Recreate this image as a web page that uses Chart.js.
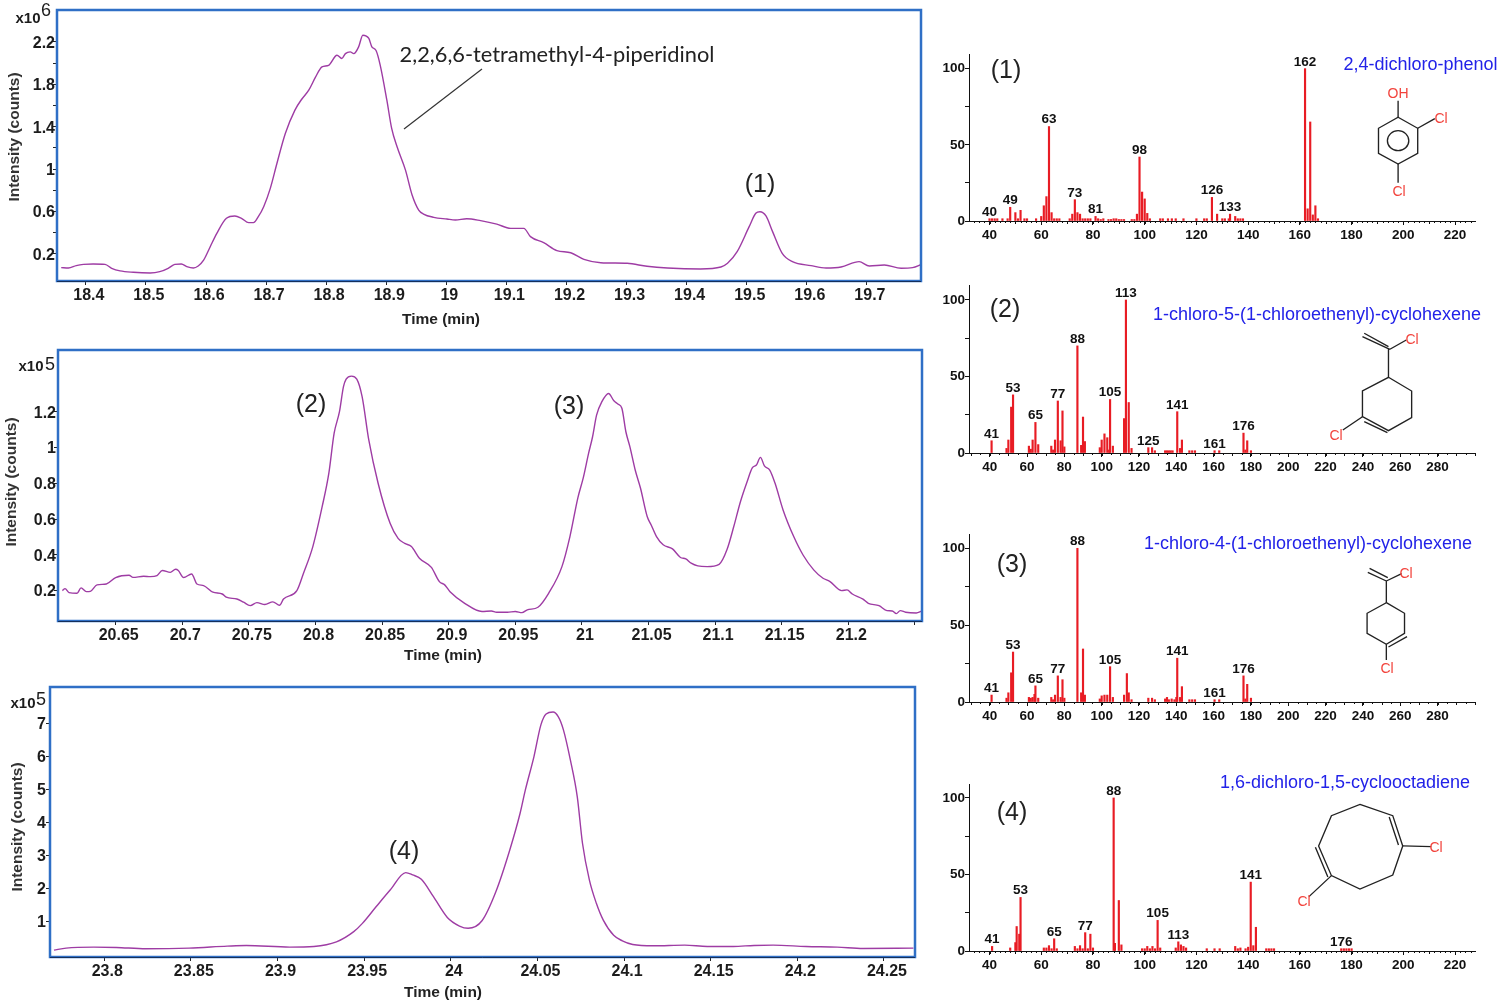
<!DOCTYPE html>
<html>
<head>
<meta charset="utf-8">
<title>Chromatograms and mass spectra</title>
<script src="https://cdn.jsdelivr.net/npm/chart.js@4"></script>
<style>
  html, body { margin: 0; padding: 0; background: #fff; }
  #page { position: relative; width: 1499px; height: 1004px; overflow: hidden; font-family: "Liberation Sans", Arial, sans-serif; }
  canvas { position: absolute; }
  svg { position: absolute; left: 0; top: 0; }
  .note { position: absolute; white-space: nowrap; transform: translate(-50%, -50%); color: #1c1c1c; }
  .axis { font-weight: bold; font-size: 15.5px; color: #222; }
  .yaxis { font-weight: bold; font-size: 15.5px; color: #333; transform: translate(-50%, -50%) rotate(-90deg); }
  .tag { font-size: 25px; color: #222; }
  .exp { font-size: 15px; font-weight: bold; }
  .pow { font-size: 18px; }
  .blue { font-size: 18px; color: #2222e8; }
  .name { font-family: Lato, sans-serif; font-size: 21.8px; color: #222; }
  .cl { font-size: 14px; color: #f2433c; }
</style>
</head>
<body>
<div id="page">
  <canvas id="c1"></canvas>
  <canvas id="c2"></canvas>
  <canvas id="c3"></canvas>
  <canvas id="m1"></canvas>
  <canvas id="m2"></canvas>
  <canvas id="m3"></canvas>
  <canvas id="m4"></canvas>

  <svg width="1499" height="1004" fill="none" stroke="#222" stroke-width="3.8">
    <line x1="404" y1="129" x2="482" y2="69" stroke-width="1.2" stroke="#333"/>
    <!-- 2,4-dichloro-phenol -->
    <g transform="translate(940,40) scale(0.3565,0.3333)">
      <path d="M1285 232L1340 265L1340 340L1285 372L1230 340L1230 265Z"/>
      <ellipse cx="1285" cy="302" rx="30" ry="30"/>
      <path d="M1285 232L1285 182M1340 265L1388 236M1285 372L1285 428"/>
    </g>
    <!-- 1-chloro-5-(1-chloroethenyl)-cyclohexene -->
    <g transform="translate(940,280) scale(0.3565,0.3333)">
      <path d="M1258 292L1323 333L1323 413L1258 452L1185 410L1185 333Z"/>
      <path d="M1190 425L1255 458M1258 208L1258 292M1262 208L1185 170M1258 200L1190 160M1262 208L1308 180M1185 410L1130 450"/>
    </g>
    <!-- 1-chloro-4-(1-chloroethenyl)-cyclohexene -->
    <g transform="translate(940,525) scale(0.3565,0.3333)">
      <path d="M1252 233L1303 265L1303 325L1252 358L1198 325L1198 265Z"/>
      <path d="M1258 366L1310 335M1252 168L1252 233M1252 168L1200 142M1256 158L1205 130M1252 168L1295 146M1252 358L1252 405"/>
    </g>
    <!-- 1,6-dichloro-1,5-cyclooctadiene -->
    <g transform="translate(940,765) scale(0.3565,0.3333)">
      <path d="M1178 118L1270 152L1298 243L1270 330L1178 372L1098 332L1062 243L1098 152Z"/>
      <path d="M1260 156L1286 240M1088 336L1053 247M1298 243L1378 245M1098 332L1035 395"/>
    </g>
  </svg>
</div>

<script>
const times1 = [18.359,18.371,18.384,18.396,18.412,18.432,18.443,18.457,18.479,18.507,18.523,18.537,18.548,18.559,18.568,18.579,18.587,18.596,18.607,18.618,18.634,18.648,18.659,18.671,18.679,18.687,18.696,18.707,18.718,18.732,18.748,18.759,18.771,18.782,18.793,18.804,18.818,18.826,18.832,18.84,18.846,18.854,18.861,18.871,18.876,18.883,18.89,18.901,18.909,18.918,18.932,18.943,18.954,18.962,18.979,19.001,19.015,19.034,19.057,19.084,19.107,19.129,19.14,19.162,19.184,19.207,19.229,19.257,19.301,19.334,19.368,19.423,19.457,19.468,19.484,19.504,19.515,19.522,19.532,19.543,19.559,19.576,19.607,19.632,19.657,19.687,19.704,19.729,19.757,19.776,19.791]
const counts1 = [.069,.066,.088,.1,.104,.1,.063,.038,.025,.019,.031,.063,.1,.104,.079,.066,.085,.14,.267,.393,.535,.557,.535,.494,.494,.55,.645,.818,1.053,1.336,1.557,1.657,1.745,1.865,1.965,1.98,2.075,2.044,2.09,2.107,2.09,2.154,2.264,2.233,2.154,2.12,1.98,1.65,1.384,1.21,.99,.755,.613,.575,.544,.528,.519,.531,.513,.48,.44,.44,.362,.305,.23,.21,.148,.116,.11,.082,.066,.057,.075,.11,.22,.456,.582,.597,.557,.409,.204,.126,.088,.066,.075,.126,.085,.094,.063,.069,.1]
const xTicks1 = [18.4,18.5,18.6,18.7,18.8,18.9,19,19.1,19.2,19.3,19.4,19.5,19.6,19.7]
const xLabels1 = xTicks1
const yTicks1 = [.2,.4,.6,.8,1,1.2,1.4,1.6,1.8,2,2.2]
const yLabels1 = [.2,.6,1,1.4,1.8,2.2]

const times2 = [20.61,20.612,20.615,20.621,20.624,20.628,20.631,20.636,20.643,20.65,20.66,20.663,20.671,20.676,20.681,20.685,20.691,20.695,20.697,20.701,20.707,20.711,20.716,20.723,20.73,20.733,20.741,20.746,20.751,20.756,20.762,20.768,20.773,20.776,20.786,20.791,20.798,20.805,20.81,20.814,20.818,20.821,20.823,20.827,20.831,20.835,20.84,20.847,20.856,20.862,20.867,20.872,20.878,20.887,20.893,20.897,20.901,20.912,20.925,20.932,20.936,20.944,20.95,20.955,20.959,20.967,20.975,20.985,20.991,20.997,21.001,21.005,21.008,21.011,21.015,21.02,21.024,21.027,21.03,21.033,21.036,21.04,21.044,21.049,21.052,21.056,21.061,21.068,21.074,21.078,21.082,21.087,21.094,21.103,21.109,21.114,21.119,21.124,21.128,21.131,21.134,21.137,21.141,21.145,21.151,21.159,21.166,21.174,21.181,21.186,21.195,21.199,21.203,21.211,21.215,21.223,21.229,21.233,21.236,21.239,21.243,21.251,21.255]
const counts2 = [.2,.211,.189,.185,.215,.194,.196,.232,.237,.273,.286,.274,.28,.278,.284,.312,.302,.319,.312,.273,.293,.237,.228,.191,.181,.163,.153,.135,.116,.133,.122,.137,.118,.153,.2,.297,.446,.669,.855,1.08,1.2,1.34,1.382,1.399,1.382,1.284,1.042,.8,.576,.492,.464,.446,.381,.33,.25,.232,.194,.129,.083,.086,.079,.079,.083,.077,.092,.107,.185,.334,.502,.72,.83,.967,1.06,1.181,1.256,1.302,1.261,1.243,1.219,1.088,1.005,.874,.772,.614,.567,.502,.456,.433,.385,.377,.353,.338,.334,.347,.431,.558,.697,.809,.887,.902,.945,.897,.874,.8,.651,.502,.399,.316,.269,.252,.2,.204,.181,.152,.129,.116,.088,.086,.071,.088,.079,.075,.085]
const xTicks2 = [20.65,20.7,20.75,20.8,20.85,20.9,20.95,21,21.05,21.1,21.15,21.2,21.25]
const xLabels2 = [20.65,20.7,20.75,20.8,20.85,20.9,20.95,21,21.05,21.1,21.15,21.2]
const yTicks2 = [.2,.4,.6,.8,1,1.2]
const yLabels2 = yTicks2

const times3 = [23.771,23.778,23.794,23.807,23.824,23.849,23.871,23.882,23.907,23.921,23.934,23.944,23.949,23.957,23.965,23.974,23.978,23.983,23.99,23.998,24.005,24.01,24.018,24.026,24.034,24.04,24.043,24.048,24.052,24.055,24.059,24.062,24.065,24.069,24.073,24.076,24.08,24.084,24.088,24.094,24.099,24.105,24.117,24.135,24.148,24.163,24.175,24.186,24.205,24.223,24.238,24.267]
const counts3 = [.12,.18,.21,.2,.16,.18,.24,.26,.21,.23,.37,.68,.93,1.44,1.94,2.47,2.4,2.27,1.74,1.11,.85,.78,1.01,1.89,3.15,4.27,4.97,5.99,6.95,7.28,7.34,7.2,6.8,5.89,4.77,3.36,2.24,1.54,1.03,.57,.4,.29,.25,.27,.23,.23,.26,.27,.23,.21,.17,.18]
const xTicks3 = [23.8,23.85,23.9,23.95,24,24.05,24.1,24.15,24.2,24.25]
const xLabels3 = xTicks3
const yTicks3 = [1,2,3,4,5,6,7]
const yLabels3 = yTicks3

const mz1 = [40,41,42,43,45,47,48,50,51,52,53.5,54.5,58,60,61,62,63,64,65,66,67,71,72,73,74,75,76,77,78,79,81,82,83,84,86,87,88,89,90,91,92,95,96,97,98,99,100,101,102,106,107,109,110.5,112,115,120,123,124,126,128,130,131,132.5,133,135,136,137,138,162,163,164,165,166,167]
const abund1 = [1.5,1.5,1.5,1.5,1.5,1.5,9,5.5,1.5,7,1.5,1.5,1.5,3,10,16,62,5.5,1.5,1.5,1.5,1.5,4.5,14,5.5,4.5,1.5,1.5,1.5,1.5,3,1.5,1,1.5,1,1,1.5,1.5,1,1,1,1,1,4.5,42,19,14.5,5,1.5,1.5,1.5,1.5,1.5,1.5,1.5,1.5,1.5,1.5,15.5,4.5,1.5,1.5,1.5,4.5,3,1.5,1.5,1.5,100,8,65,4,10,1.5]
const peaks1 = [40,49,63,73,81,98,126,133,162]

const mz2 = [41,49,50,51.5,52.5,61,62,63,64.5,66,73,74,75,76.5,78,79,80,87,89,90,91,99,100,101.5,103,104,104.5,106,112,113,114.5,116,125,127,128.5,134,135,136,137,138,140.5,142,143,147,148.5,150,160.5,163,176,177,178,180]
const abund2 = [8,3,8.5,30,38,4.5,2.5,8.5,20,5.5,4.5,2,8.5,34,8,27.5,4,70,5,23.5,7.5,3.5,8.5,12.5,10,2,35,4.5,22.5,100,33,3,3.5,3.5,1.5,1.5,1.5,1.5,1.5,1.5,27,3,8.5,1.5,1.5,1.5,1.5,1.5,13,2,8,1.5]
const peaks2 = [41,53,65,77,88,105,113,125,141,161,176]

const mz3 = [41,49,50,51.5,52.5,61,62,63,64,64.5,66,73,74,75,76.5,78,79,80,87,89,90,91,99,100,101.5,103,104.5,106,112,113.5,114.5,116,125,127,128.5,134,135,136,137.5,139,140,140.5,142,143,147,148.5,150,160.5,163,176,177,178,180]
const abund3 = [4.5,2.5,6,19,32.5,3,2.5,3,5,10.5,2.5,3,1.5,4.5,17,3,14.5,2.5,100,6,34.5,4.5,2,4,4.5,4.5,23,3,4.5,18.5,6,1.5,2.5,2.5,1.5,2,3,1.5,2,1.5,3,28.5,3,10,1.5,1.5,1.5,1.5,1.5,17,2,11.5,2.5]
const peaks3 = [41,53,65,77,88,105,141,161,176]

const mz4 = [41,48,50,50.5,51.5,52,61,62,63,64,65,66,73,74,75,76,77,78,79,80,88,88.5,90,91,99,100,101,102,103,104,105,106,112,113,114,115,116,124,127,129,135,136,137,139,140,141,142,143,147,148,149,150,176,177,178,179,180]
const abund4 = [3,2,5.5,16,11,35,2,2,3.5,1.5,8,1.5,3,1.5,3.5,1.5,12,1.5,11,2,100,5,33,4,1.5,1.5,3,1.5,3,1.5,20,2,2,6,4,3,2,1.5,1.5,1.5,3,1.5,2,1.5,2.5,45,3.5,15.5,1.5,1.5,1.5,1.5,1.5,1.5,1.5,1.5,1.5]
const peaks4 = [41,53,65,77,88,105,113,141,176]

const msTicks1 = [40,60,80,100,120,140,160,180,200,220]
const msTicks2 = [40,60,80,100,120,140,160,180,200,220,240,260,280]
const msYTicks = [0,25,50,75,100]
const msYLabels = [0,50,100]

const fontName = '"Liberation Sans", Arial, sans-serif'

const notes = [
    ['x10', 28, 17, 'exp'], ['6', 46, 10, 'pow'],
    ['x10', 31, 365, 'exp'], ['5', 50, 364, 'pow'],
    ['x10', 23, 702, 'exp'], ['5', 41, 699, 'pow'],
    ['Intensity (counts)', 14, 137, 'yaxis'],
    ['Intensity (counts)', 11, 482, 'yaxis'],
    ['Intensity (counts)', 17, 827, 'yaxis'],
    ['Time (min)', 441, 318.5, 'axis'],
    ['Time (min)', 443, 654.5, 'axis'],
    ['Time (min)', 443, 991.5, 'axis'],
    ['2,2,6,6-tetramethyl-4-piperidinol', 557, 52.5, 'name'],
    ['(1)', 760, 183, 'tag'], ['(2)', 311, 403, 'tag'], ['(3)', 569, 405, 'tag'], ['(4)', 404, 850, 'tag'],
    ['(1)', 1006, 69, 'tag'], ['(2)', 1005, 308, 'tag'], ['(3)', 1012, 563, 'tag'], ['(4)', 1012, 811, 'tag'],
    ['2,4-dichloro-phenol', 1420.5, 64, 'blue'],
    ['1-chloro-5-(1-chloroethenyl)-cyclohexene', 1317, 314, 'blue'],
    ['1-chloro-4-(1-chloroethenyl)-cyclohexene', 1308, 543, 'blue'],
    ['1,6-dichloro-1,5-cyclooctadiene', 1345, 782, 'blue'],
    ['OH', 1398, 93, 'cl'], ['Cl', 1441, 118, 'cl'], ['Cl', 1399, 191, 'cl'],
    ['Cl', 1412, 339, 'cl'], ['Cl', 1336, 435, 'cl'],
    ['Cl', 1406, 573, 'cl'], ['Cl', 1387, 668, 'cl'],
    ['Cl', 1436, 847, 'cl'], ['Cl', 1304, 901, 'cl']
]

const page = document.getElementById('page')
notes.forEach(n => {
    const el = document.createElement('div')
    el.className = 'note ' + n[3]
    el.textContent = n[0]
    el.style.left = n[1] + 'px'
    el.style.top = n[2] + 'px'
    page.appendChild(el)
})

function place(id, left, top, width, height) {
    const cv = document.getElementById(id)
    cv.width = width
    cv.height = height
    cv.style.left = left + 'px'
    cv.style.top = top + 'px'
    cv.style.width = width + 'px'
    cv.style.height = height + 'px'
    return cv
}

function fixedX(h) {
    return s => { s.height = h; s.paddingLeft = 0; s.paddingRight = 0 }
}
function fixedY(w) {
    return s => { s.width = w; s.paddingTop = 0; s.paddingBottom = 0 }
}

const blueFrame = {
    id: 'blueFrame',
    afterDraw(chart) {
        const a = chart.chartArea
        const c = chart.ctx
        c.save()
        c.strokeStyle = '#2f6fc6'
        c.lineWidth = 2.5
        c.strokeRect(a.left, a.top, a.right - a.left, a.bottom - a.top)
        c.strokeStyle = '#15305c'
        c.lineWidth = 1
        c.beginPath()
        c.moveTo(a.left, a.bottom + 0.5)
        c.lineTo(a.right, a.bottom + 0.5)
        c.stroke()
        c.restore()
    }
}

// chromatogram: f = plot frame in page pixels
function chromatogram(id, f, times, counts, xr, yr, xTicks, xLabels, yTicks, yLabels, yPad) {
    const bottomH = 26
    const cv = place(id, 0, f.top - 3, f.right + 4, f.bottom - f.top + 3 + bottomH)
    return new Chart(cv, {
        type: 'line',
        data: {
            datasets: [{
                data: times.map((t, i) => ({ x: t, y: counts[i] })),
                borderColor: '#9e3ca4',
                borderWidth: 1.4,
                pointRadius: 0,
                cubicInterpolationMode: 'monotone'
            }]
        },
        plugins: [blueFrame],
        options: {
            responsive: false,
            animation: false,
            layout: { padding: { top: 3, right: 4, left: 0, bottom: 0 } },
            plugins: { legend: { display: false }, tooltip: { enabled: false } },
            scales: {
                x: {
                    type: 'linear', min: xr[0], max: xr[1],
                    afterBuildTicks: s => { s.ticks = xTicks.map(v => ({ value: v })) },
                    afterFit: fixedX(bottomH),
                    grid: { drawOnChartArea: false, tickLength: 4, color: '#222' },
                    border: { display: false },
                    ticks: {
                        autoSkip: false, maxRotation: 0, padding: 1, labelOffset: 3,
                        color: '#1c1c1c', font: { family: fontName, size: 16, weight: 'bold' },
                        callback: v => xLabels.includes(v) ? String(v) : ''
                    }
                },
                y: {
                    min: yr[0], max: yr[1],
                    afterBuildTicks: s => { s.ticks = yTicks.map(v => ({ value: v })) },
                    afterFit: fixedY(f.left),
                    grid: { drawOnChartArea: false, tickLength: 4, color: '#222' },
                    border: { display: false },
                    ticks: {
                        autoSkip: false, padding: yPad, labelOffset: 1.5,
                        color: '#1c1c1c', font: { family: fontName, size: 16, weight: 'bold' },
                        callback: v => yLabels.includes(v) ? String(v) : ''
                    }
                }
            }
        }
    })
}

// m/z label above the bar nearest to the printed number, plus the small axis ticks
function spectrumDecor(mz, abund, peaks, step) {
    return {
        id: 'spectrumDecor',
        afterDraw(chart) {
            const c = chart.ctx
            const sx = chart.scales.x
            const sy = chart.scales.y
            c.save()
            c.strokeStyle = '#111'
            c.lineWidth = 1
            c.beginPath()
            for (let v = Math.ceil(sx.min / step) * step; v <= sx.max; v += step) {
                const px = Math.round(sx.getPixelForValue(v)) + 0.5
                c.moveTo(px, sx.top)
                c.lineTo(px, sx.top + (v % 10 === 0 ? 3 : 2))
            }
            c.stroke()
            c.fillStyle = '#111'
            c.font = 'bold 13.5px ' + fontName
            c.textAlign = 'center'
            c.textBaseline = 'bottom'
            peaks.forEach(p => {
                let best = 0
                mz.forEach((m, i) => { if (Math.abs(m - p) < Math.abs(mz[best] - p)) best = i })
                c.fillText(String(p), sx.getPixelForValue(mz[best]), sy.getPixelForValue(abund[best]))
            })
            c.restore()
        }
    }
}

function spectrum(id, top, bottom, mz, abund, peaks, xr, yMax, xTicks, step) {
    const left = 940
    const bottomH = 30
    const cv = place(id, left, top, 536, bottom - top + bottomH)
    return new Chart(cv, {
        type: 'bar',
        data: {
            datasets: [{
                data: mz.map((m, i) => ({ x: m, y: abund[i] })),
                backgroundColor: '#e81c24',
                barThickness: 1.5
            }]
        },
        plugins: [spectrumDecor(mz, abund, peaks, step)],
        options: {
            responsive: false,
            animation: false,
            plugins: { legend: { display: false }, tooltip: { enabled: false } },
            scales: {
                x: {
                    type: 'linear', min: xr[0], max: xr[1], offset: false,
                    afterBuildTicks: s => { s.ticks = xTicks.map(v => ({ value: v })) },
                    afterFit: fixedX(bottomH),
                    grid: { drawOnChartArea: false, tickLength: 4, color: '#111', offset: false },
                    border: { display: true, color: '#111', width: 1 },
                    ticks: {
                        autoSkip: false, maxRotation: 0, padding: 2,
                        color: '#111', font: { family: fontName, size: 13.5, weight: 'bold' },
                        callback: v => String(v)
                    }
                },
                y: {
                    min: 0, max: yMax,
                    afterBuildTicks: s => { s.ticks = msYTicks.map(v => ({ value: v })) },
                    afterFit: fixedY(29),
                    grid: { drawOnChartArea: false, tickLength: 4, color: '#111' },
                    border: { display: true, color: '#111', width: 1 },
                    ticks: {
                        autoSkip: false, padding: 0,
                        color: '#111', font: { family: fontName, size: 13.5, weight: 'bold' },
                        callback: v => msYLabels.includes(v) ? String(v) : ''
                    }
                }
            }
        }
    })
}

chromatogram('c1', { left: 57, right: 921, top: 10, bottom: 281 }, times1, counts1, [18.352, 19.79], [-0.057, 2.502], xTicks1, xLabels1, yTicks1, yLabels1, -2)
chromatogram('c2', { left: 58, right: 922, top: 350, bottom: 621 }, times2, counts2, [20.6067, 21.2553], [0.03, 1.545], xTicks2, xLabels2, yTicks2, yLabels2, -2)
chromatogram('c3', { left: 50, right: 915, top: 687, bottom: 957 }, times3, counts3, [23.7687, 24.2679], [-0.09, 8.1], xTicks3, xLabels3, yTicks3, yLabels3, 0)

spectrum('m1', 54, 221, mz1, abund1, peaks1, [32.07, 228.1], 109.6, msTicks1, 2)
spectrum('m2', 285, 453, mz2, abund2, peaks2, [28.9, 300.6], 109.8, msTicks2, 5)
spectrum('m3', 534, 702, mz3, abund3, peaks3, [28.9, 300.6], 109.3, msTicks2, 5)
spectrum('m4', 784, 951, mz4, abund4, peaks4, [32.07, 228.1], 109.1, msTicks1, 2)
</script>
</body>
</html>
